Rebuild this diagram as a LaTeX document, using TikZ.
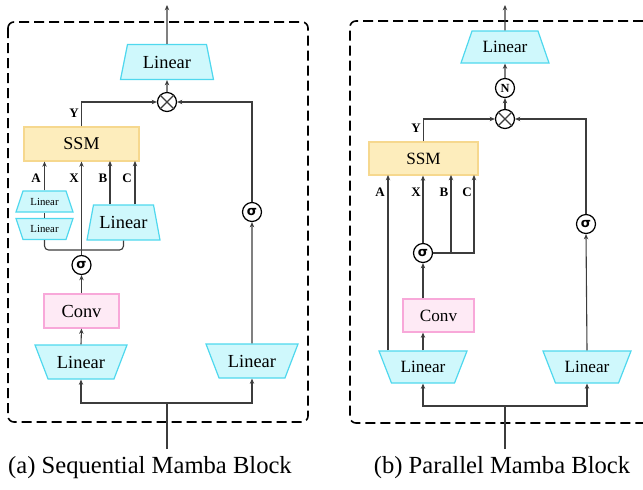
\documentclass[tikz,border=0pt]{standalone}
\usepackage{fontspec}
\setmainfont{Liberation Serif}
\newfontfamily\sigfont{DejaVu Sans}
\usetikzlibrary{positioning,shapes.geometric,arrows.meta}
\definecolor{lincyan}{HTML}{CFF8FC}
\definecolor{linedge}{HTML}{4FD8EE}
\definecolor{ssmfill}{HTML}{FDEDBC}
\definecolor{ssmedge}{HTML}{F6D88E}
\definecolor{convfill}{HTML}{FEEAF5}
\definecolor{convedge}{HTML}{F8A8D9}
\definecolor{wirecol}{HTML}{3C3C3C}
\def\sig{{\sigfont\bfseries σ}}

\begin{document}
\begin{tikzpicture}[x=0.5pt, y=-0.5pt, >={Stealth[length=2.6pt,width=2.2pt]}]
        \tikzstyle{wire}=[draw=wirecol, line width=0.55pt];
        \tikzstyle{arr}=[wire, ->];
        \tikzstyle{dashbox}=[draw=black, line width=0.8pt, dash pattern=on 5pt off 2.5pt, rounded corners=3pt];
        \tikzstyle{lin}=[trapezium, trapezium stretches body, draw=linedge, fill=lincyan, line width=0.6pt, inner sep=0pt, font=\fontsize{9.2}{10}\selectfont];
        \tikzstyle{linflip}=[lin, shape border rotate=180];
        \tikzstyle{lina}=[minimum width=46pt, text height=11.55pt, text depth=5.45pt, trapezium angle=69];
        \tikzstyle{linb}=[font=\fontsize{8.6}{10}\selectfont, minimum width=44pt, text height=10.85pt, text depth=5.15pt];
        \tikzstyle{linsmall}=[minimum width=28.5pt, text height=7.05pt, text depth=3.45pt, trapezium angle=71.6, font=\fontsize{5.4}{6}\selectfont];
        \tikzstyle{ssm}=[rectangle, draw=ssmedge, fill=ssmfill, line width=0.6pt, inner sep=0pt, font=\fontsize{9}{10}\selectfont];
        \tikzstyle{conv}=[rectangle, draw=convedge, fill=convfill, line width=0.6pt, inner sep=0pt, font=\fontsize{9.2}{10}\selectfont];
        \tikzstyle{op}=[circle, draw=black, fill=white, line width=0.6pt, minimum size=9.5pt, inner sep=0pt, font=\fontsize{6.5}{7}\selectfont];
        \tikzstyle{lbl}=[inner sep=0pt, font=\fontsize{6.5}{7}\selectfont\bfseries];
        \tikzstyle{captxt}=[inner sep=0pt, font=\fontsize{12.3}{14}\selectfont];
        \tikzstyle{fontb}=[font=\fontsize{8.6}{10}\selectfont];

        \useasboundingbox (0,0) rectangle (643,489);

        % dashed frames
        \draw[dashbox] (8,22) rectangle (308,422);
        \draw[dashbox] (643,21) -- (350,21) -- (350,423) -- (643,423);

        % (a) sequential block
        \node[lin, minimum width=46.5pt, text height=11.8pt, text depth=5.7pt, trapezium angle=78.7] (outlinA) at (167,62) {Linear};
        \node[op] (mulA) at (167,102) {};
        \node[ssm, minimum width=57.5pt, minimum height=17pt] (ssmA) at (81.5,144) {SSM};
        \node[lin, linsmall] (projA1) at (44.5,201.5) {Linear};
        \node[linflip, linsmall] (projA2) at (44.5,229) {Linear};
        \node[lin, minimum width=36.5pt, text height=11.8pt, text depth=5.7pt, trapezium angle=79.5] (projBC) at (123.5,222.5) {Linear};
        \node[op] (sigA1) at (81.5,265) {\sig};
        \node[conv, minimum width=37.5pt, minimum height=17pt] (convA) at (81.5,311) {Conv};
        \node[linflip, lina] (inlinA1) at (81,362) {Linear};
        \node[linflip, lina] (inlinA2) at (252,361) {Linear};
        \node[op] (sigA2) at (252,212) {\sig};
        \coordinate (outA) at (167,5);
        \coordinate (inA) at (167,449);
        \coordinate (splitA) at (167,403);
        \coordinate (brA) at (81.5,250);
        \coordinate (bA) at (110,161);
        \coordinate (cA) at (135,161);
        % labels
        \node[lbl] (yA) at (74,113) {Y};
        \foreach \lab / \x in {A/36, X/74, B/103, C/127}
            \node[lbl] (l\lab A) at (\x,178) {\lab};
        % connections
        \draw[arr] (outlinA.north) -- (outA);
        \draw[arr] (mulA.north) -- (outlinA.south);
        \draw[wire] (mulA.north west) -- (mulA.south east) (mulA.north east) -- (mulA.south west);
        \draw[arr] (ssmA.north) |- (mulA.west);
        \draw[arr] (sigA2.north) |- (mulA.east);
        \draw[arr] (projA1.north) -- (projA1.north |- ssmA.south);
        \draw[wire] (projA2.north) -- (projA1.south);
        \draw[arr] (bA |- projBC.north) -- (bA);
        \draw[arr] (cA |- projBC.north) -- (cA);
        \draw[wire, rounded corners=2pt] (projA2.south) |- (brA) -| (projBC.south);
        \draw[arr] (sigA1.north) -- (sigA1.north |- ssmA.south);
        \draw[arr] (convA.north) -- (sigA1.south);
        \draw[arr] (inlinA1.north) -- (convA.south);
        \draw[arr] (inlinA2.north) -- (sigA2.south);
        \draw[wire] (inA) -- (splitA);
        \draw[arr] (splitA) -| (inlinA1.south);
        \draw[arr] (splitA) -| (inlinA2.south);

        % (b) parallel block
        \node[lin, linb, trapezium angle=71] (outlinB) at (505,47) {Linear};
        \node[op, font=\fontsize{6.2}{7}\selectfont\bfseries] (normB) at (505,88) {N};
        \node[op] (mulB) at (505,119) {};
        \node[ssm, fontb, minimum width=54.5pt, minimum height=16.5pt] (ssmB) at (423.5,158.5) {SSM};
        \node[op] (sigB1) at (423,253) {\sig};
        \node[conv, fontb, minimum width=35.5pt, minimum height=16.5pt] (convB) at (438.5,315.5) {Conv};
        \node[linflip, linb, trapezium angle=68.7] (inlinB1) at (423,367) {Linear};
        \node[linflip, linb, trapezium angle=68.7] (inlinB2) at (587,367) {Linear};
        \node[op] (sigB2) at (586,224) {\sig};
        \coordinate (outB) at (505,5);
        \coordinate (inB) at (505,449);
        \coordinate (splitB) at (505,406);
        \coordinate (aB) at (388,175);
        \coordinate (bB) at (451,175);
        \coordinate (cB) at (474,175);
        % labels
        \node[lbl] (yB) at (416,128) {Y};
        \foreach \lab / \x in {A/380, X/416, B/444, C/467}
            \node[lbl] (l\lab B) at (\x,192) {\lab};
        % connections
        \draw[arr] (outlinB.north) -- (outB);
        \draw[arr] (normB.north) -- (outlinB.south);
        \draw[arr] (mulB.north) -- (normB.south);
        \draw[wire] (mulB.north west) -- (mulB.south east) (mulB.north east) -- (mulB.south west);
        \draw[arr] (ssmB.north) |- (mulB.west);
        \draw[arr] (sigB2.north) |- (mulB.east);
        \draw[arr] (aB |- inlinB1.north) -- (aB);
        \draw[arr] (sigB1.north) -- (sigB1.north |- ssmB.south);
        \draw[arr] (sigB1.east) -| (cB);
        \draw[arr] (bB |- sigB1.east) -- (bB);
        \draw[arr] (inlinB1.north) -- (inlinB1.north |- convB.south);
        \draw[arr] (sigB1.south |- convB.north) -- (sigB1.south);
        \draw[arr] (inlinB2.north) -- (sigB2.south);
        \draw[wire] (inB) -- (splitB);
        \draw[arr] (splitB) -| (inlinB1.south);
        \draw[arr] (splitB) -| (inlinB2.south);

        % captions
        \node[captxt] (capA) at (150,468) {(a) Sequential Mamba Block};
        \node[captxt] (capB) at (502,468) {(b) Parallel Mamba Block};
    \end{tikzpicture}
\end{document}
